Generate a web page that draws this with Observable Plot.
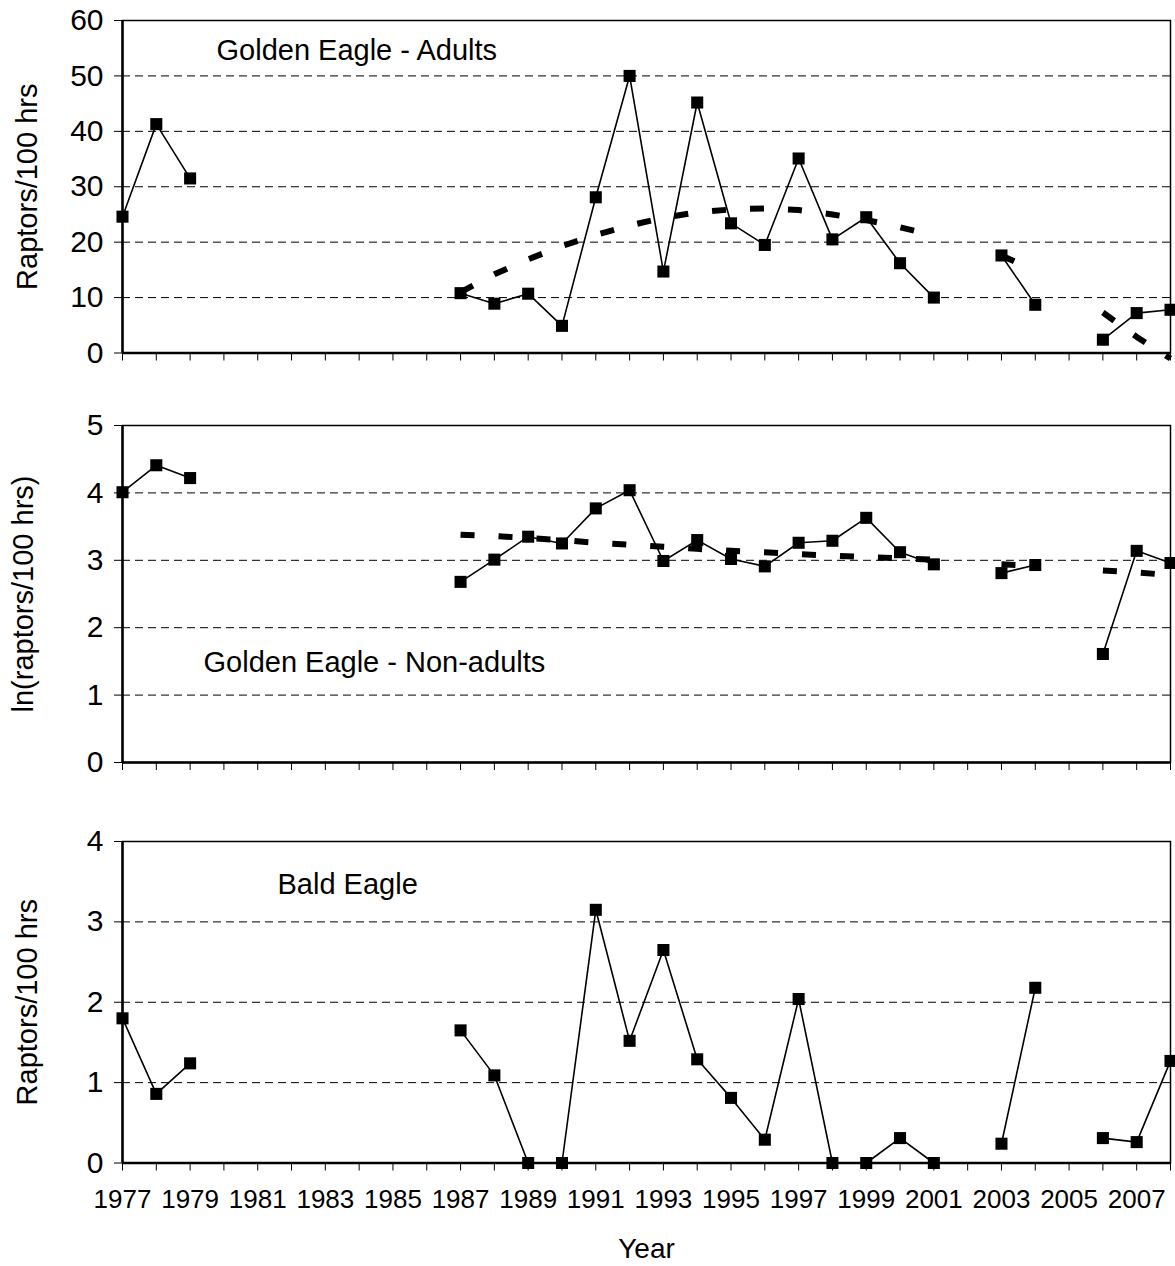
<!DOCTYPE html>
<html>
<head>
<meta charset="utf-8">
<script src="https://cdn.jsdelivr.net/npm/d3@7"></script>
<script src="https://cdn.jsdelivr.net/npm/@observablehq/plot@0.6"></script>
<style>
  body { margin: 0; background: #fff; }
  #chart { position: relative; width: 1175px; height: 1266px; font-family: "Liberation Sans", Arial, sans-serif; }
  #chart svg { position: absolute; left: 0; display: block; overflow: visible; background: transparent; }
</style>
</head>
<body>
<div id="chart"></div>
<script>
const years = [1977, 1978, 1979, 1980, 1981, 1982, 1983, 1984, 1985, 1986, 1987, 1988, 1989, 1990, 1991, 1992,
               1993, 1994, 1995, 1996, 1997, 1998, 1999, 2000, 2001, 2002, 2003, 2004, 2005, 2006, 2007, 2008];

// Golden Eagle - Adults (raptors/100 hrs)
const geAdults = [24.6, 41.3, 31.5, null, null, null, null, null, null, null, 10.8, 8.9, 10.7, 4.9, 28.1, 50.0,
                  14.7, 45.2, 23.4, 19.5, 35.1, 20.5, 24.5, 16.2, 10.0, null, 17.6, 8.7, null, 2.4, 7.2, 7.8];
const geAdultsTrend = [null, null, null, null, null, null, null, null, null, null, 11.0, 14.2, 16.9, 19.3, 21.3, 23.0,
                       24.4, 25.4, 25.9, 26.1, 25.8, 25.0, 24.0, 22.7, 21.2, null, 17.6, 14.8, null, 7.3, 2.9, -1.0];

// Golden Eagle - Non-adults (ln(raptors/100 hrs))
const geNonAdults = [4.01, 4.41, 4.22, null, null, null, null, null, null, null, 2.68, 3.01, 3.35, 3.25, 3.77, 4.04,
                     2.99, 3.30, 3.02, 2.91, 3.26, 3.29, 3.63, 3.12, 2.94, null, 2.81, 2.93, null, 1.61, 3.14, 2.96];
const geNonAdultsTrend = [null, null, null, null, null, null, null, null, null, null, 3.38, 3.36, 3.33, 3.30, 3.26, 3.23,
                          3.20, 3.17, 3.14, 3.12, 3.09, 3.07, 3.05, 3.03, 3.01, null, 2.94, 2.92, null, 2.85, 2.82, 2.78];

// Bald Eagle (raptors/100 hrs)
const baldEagle = [1.80, 0.86, 1.24, null, null, null, null, null, null, null, 1.65, 1.09, 0, 0, 3.15, 1.52,
                   2.65, 1.29, 0.81, 0.29, 2.04, 0, 0, 0.31, 0, null, 0.24, 2.18, null, 0.31, 0.26, 1.27];

const panelTitles = ["Golden Eagle - Adults", "Golden Eagle - Non-adults", "Bald Eagle"];
const yLabels = ["Raptors/100 hrs", "ln(raptors/100 hrs)", "Raptors/100 hrs"];
const yTicks1 = [0, 10, 20, 30, 40, 50, 60];
const yTicks2 = [0, 1, 2, 3, 4, 5];
const yTicks3 = [0, 1, 2, 3, 4];
const xTitle = "Year";

const FONT = "Liberation Sans, Arial, sans-serif";

function toRows(values) {
  return years.map((year, i) => ({year, v: values[i]}));
}
function toSegments(values) {
  // split into contiguous runs so each dashed segment starts its own dash pattern
  const rows = [];
  let seg = 0, prev = false;
  years.forEach((year, i) => {
    const ok = values[i] != null;
    if (ok && !prev) seg++;
    if (ok) rows.push({year, v: values[i], seg});
    prev = ok;
  });
  return rows;
}

function panel(opts) {
  const {values, trend, ticks, label, labelDx, title, titleDx, titleDy, top, height, marginTop, marginBottom, showX} = opts;
  const domain = [ticks[0], ticks[ticks.length - 1]];
  const rows = toRows(values);
  const marks = [
    Plot.ruleY(ticks.filter(t => t > domain[0] && t < domain[1]), {stroke: "#000", strokeWidth: 1, strokeDasharray: "8,5"}),
    Plot.frame({stroke: "#000", strokeWidth: 1.5}),
    Plot.ruleX([years[0]], {stroke: "#000", strokeWidth: 2.5}),
    Plot.ruleY([domain[0]], {stroke: "#000", strokeWidth: 2.5}),
    Plot.axisY({ticks, tickSize: 8, tickPadding: 11, fontSize: 30, tickFormat: d => String(d), label: null}),
    Plot.axisX({ticks: years, tickSize: 8, fill: "none", label: null}),
  ];
  if (showX) {
    marks.push(Plot.axisX({ticks: years.filter(y => y % 2 === 1), tickSize: 0, tickPadding: 27, fontSize: 26,
                           tickFormat: d => String(d), label: null}));
    marks.push(Plot.text([xTitle], {text: d => d, frameAnchor: "bottom", dy: 86, lineAnchor: "middle", fontSize: 28}));
  }
  if (trend) {
    marks.push(Plot.line(toSegments(trend), {x: "year", y: "v", z: "seg", stroke: "#000", strokeWidth: 6,
                                              strokeDasharray: "14,24", strokeLinecap: "butt"}));
  }
  marks.push(
    Plot.line(rows, {x: "year", y: "v", stroke: "#000", strokeWidth: 1.6}),
    Plot.dot(rows.filter(d => d.v != null), {x: "year", y: "v", symbol: "square", r: 6.8, fill: "#000", stroke: "none"}),
    Plot.text([title], {text: d => d, frameAnchor: "top-left", dx: titleDx, dy: titleDy, textAnchor: "start",
                        lineAnchor: "middle", fontSize: 29}),
    Plot.text([label], {text: d => d, frameAnchor: "left", dx: labelDx, rotate: -90, textAnchor: "middle",
                        lineAnchor: "middle", fontSize: 29})
  );
  const svg = Plot.plot({
    width: 1175, height, marginLeft: 122, marginRight: 5, marginTop, marginBottom,
    style: {fontFamily: FONT, fontSize: "26px", color: "#000", background: "transparent", overflow: "visible"},
    x: {domain: [years[0], years[years.length - 1]]},
    y: {domain},
    marks
  });
  svg.style.top = top + "px";
  return svg;
}

const chart = document.getElementById("chart");
chart.append(
  panel({values: geAdults, trend: geAdultsTrend, ticks: yTicks1, label: yLabels[0], labelDx: -95, title: panelTitles[0],
         titleDx: 94, titleDy: 30, top: 0, height: 390, marginTop: 20, marginBottom: 37.5}),
  panel({values: geNonAdults, trend: geNonAdultsTrend, ticks: yTicks2, label: yLabels[1], labelDx: -99, title: panelTitles[1],
         titleDx: 81, titleDy: 237, top: 390, height: 400, marginTop: 35, marginBottom: 28}),
  panel({values: baldEagle, trend: null, ticks: yTicks3, label: yLabels[2], labelDx: -95, title: panelTitles[2],
         titleDx: 155, titleDy: 43, top: 790, height: 476, marginTop: 51, marginBottom: 103.5, showX: true})
);
</script>
</body>
</html>
